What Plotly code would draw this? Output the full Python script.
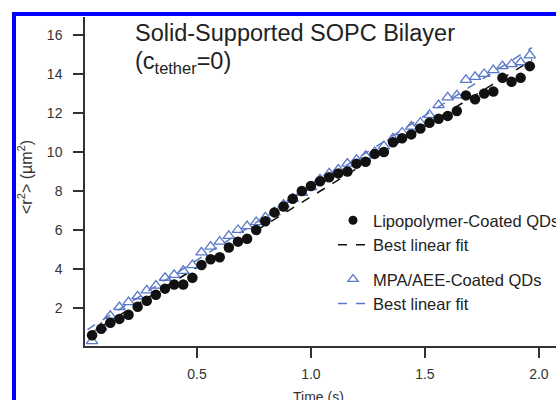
import numpy as np
import plotly.graph_objects as go

# Data
time_s = [round(0.04 * k, 2) for k in range(1, 50)]
lipo_r2 = [0.6, 0.93, 1.24, 1.44, 1.65, 2.06, 2.37, 2.68, 2.99, 3.2,
           3.2, 3.55, 4.2, 4.5, 4.6, 5.1, 5.4, 5.55, 6.0, 6.45,
           6.9, 7.2, 7.6, 8.0, 8.25, 8.5, 8.7, 8.9, 9.0, 9.4,
           9.5, 9.9, 10.0, 10.5, 10.7, 10.9, 11.2, 11.5, 11.7, 11.85,
           12.1, 12.9, 12.7, 13.0, 13.1, 13.8, 13.6, 13.8, 14.4]
mpa_r2 = [0.3, 1.0, 1.6, 2.05, 2.3, 2.6, 2.9, 3.15, 3.55, 3.7,
          3.9, 4.2, 4.85, 5.15, 5.4, 5.7, 6.0, 6.2, 6.4, 6.65,
          6.9, 7.3, 7.6, 7.9, 8.2, 8.6, 8.9, 9.1, 9.4, 9.6,
          9.8, 10.0, 10.3, 10.7, 11.0, 11.3, 11.5, 11.9, 12.4, 12.8,
          12.9, 13.7, 13.85, 14.0, 14.2, 14.4, 14.5, 14.6, 14.95]
x_ticks = [0.5, 1.0, 1.5, 2.0]
x_tick_labels = ["0.5", "1.0", "1.5", "2.0"]
y_ticks = [2, 4, 6, 8, 10, 12, 14, 16]

W, H = 556, 400
ML, MR, MT, MB = 85, 0, 17, 54
PW, PH = W - ML - MR, H - MT - MB

def px_x(p):
    return (p - ML) / PW

def px_y(p):
    return (H - MB - p) / PH

t = np.array(time_s)
fit_x = np.array([0.02, 1.97])
b1 = np.polyfit(t, np.array(lipo_r2), 1)
b2 = np.polyfit(t, np.array(mpa_r2), 1)

BLUE = "#5a78c8"
FONT = "Liberation Sans, Arial, sans-serif"
fig = go.Figure()
fig.add_trace(go.Scatter(x=fit_x, y=np.polyval(b2, fit_x), mode="lines",
                         line=dict(color=BLUE, dash="dash", width=1.5),
                         showlegend=False, hoverinfo="skip"))
fig.add_trace(go.Scatter(x=fit_x, y=np.polyval(b1, fit_x), mode="lines",
                         line=dict(color="#111111", dash="dash", width=1.5),
                         showlegend=False, hoverinfo="skip"))
fig.add_trace(go.Scatter(x=time_s, y=mpa_r2, mode="markers",
                         marker=dict(symbol="triangle-up-open", size=10,
                                     color=BLUE, line=dict(width=1.3, color=BLUE)),
                         showlegend=False))
fig.add_trace(go.Scatter(x=time_s, y=lipo_r2, mode="markers",
                         marker=dict(symbol="circle", size=10.5, color="#111111"),
                         showlegend=False))

# legend entries
fig.add_trace(go.Scatter(x=[None], y=[None], mode="markers", name="Lipopolymer-Coated QDs",
                         legendgroup="a", marker=dict(symbol="circle", size=9, color="#111111")))
fig.add_trace(go.Scatter(x=[None], y=[None], mode="lines", name="Best linear fit",
                         legendgroup="a", line=dict(color="#111111", dash="dash", width=1.5)))
fig.add_trace(go.Scatter(x=[None], y=[None], mode="markers", name="MPA/AEE-Coated QDs",
                         legendgroup="b", marker=dict(symbol="triangle-up-open", size=9,
                                                      color=BLUE, line=dict(width=1.3, color=BLUE))))
fig.add_trace(go.Scatter(x=[None], y=[None], mode="lines", name="Best linear fit",
                         legendgroup="b", line=dict(color=BLUE, dash="dash", width=1.5)))

axis_font = dict(family=FONT, size=14, color="#333333")
fig.update_layout(
    width=W, height=H,
    margin=dict(l=ML, r=MR, t=MT, b=MB, pad=0, autoexpand=False),
    paper_bgcolor="white", plot_bgcolor="white",
    font=dict(family=FONT, color="#333333"),
    xaxis=dict(range=[0.009, 2.075], tickvals=x_ticks, ticktext=x_tick_labels,
               showgrid=False, zeroline=False, showline=True, linecolor="#333333",
               linewidth=1.5, ticks="outside", ticklen=10, tickwidth=1.5,
               tickcolor="#333333", tickfont=axis_font, ticklabelstandoff=4,
               automargin=False),
    yaxis=dict(range=[0.05, 16.92], tickvals=y_ticks,
               showgrid=False, zeroline=False, showline=True, linecolor="#333333",
               linewidth=1.5, ticks="outside", ticklen=10, tickwidth=1.5,
               tickcolor="#333333", tickfont=axis_font, ticklabelstandoff=8,
               automargin=False),
    legend=dict(x=px_x(333), y=px_y(203), xanchor="left", yanchor="top",
                bgcolor="rgba(0,0,0,0)", tracegroupgap=10,
                font=dict(family=FONT, size=16.5, color="#222222"),
                itemwidth=30),
    showlegend=True,
)

fig.add_annotation(x=px_x(133), y=px_y(33), xref="paper", yref="paper",
                   xanchor="left", yanchor="middle", showarrow=False,
                   text="Solid-Supported SOPC Bilayer",
                   font=dict(size=23.5, color="#222222"))
fig.add_annotation(x=px_x(133), y=px_y(63), xref="paper", yref="paper",
                   xanchor="left", yanchor="middle", showarrow=False,
                   text="(c<sub>tether</sub>=0)",
                   font=dict(size=23.5, color="#222222"))
fig.add_annotation(x=px_x(25), y=px_y(177), xref="paper", yref="paper",
                   xanchor="center", yanchor="middle", showarrow=False, textangle=-90,
                   text="<r<sup>2</sup>> (µm<sup>2</sup>)",
                   font=dict(size=16, color="#333333"))
fig.add_annotation(x=px_x(318), y=px_y(397), xref="paper", yref="paper",
                   xanchor="center", yanchor="middle", showarrow=False,
                   text="Time (s)", font=dict(size=14, color="#333333"))

# blue frame around the figure (cropped at right and bottom)
fig.add_shape(type="rect", xref="paper", yref="paper",
              x0=px_x(14), x1=px_x(620), y0=px_y(460), y1=px_y(14),
              line=dict(color="#0000ff", width=4), fillcolor="rgba(0,0,0,0)", layer="above")

fig.write_html("out.html")
